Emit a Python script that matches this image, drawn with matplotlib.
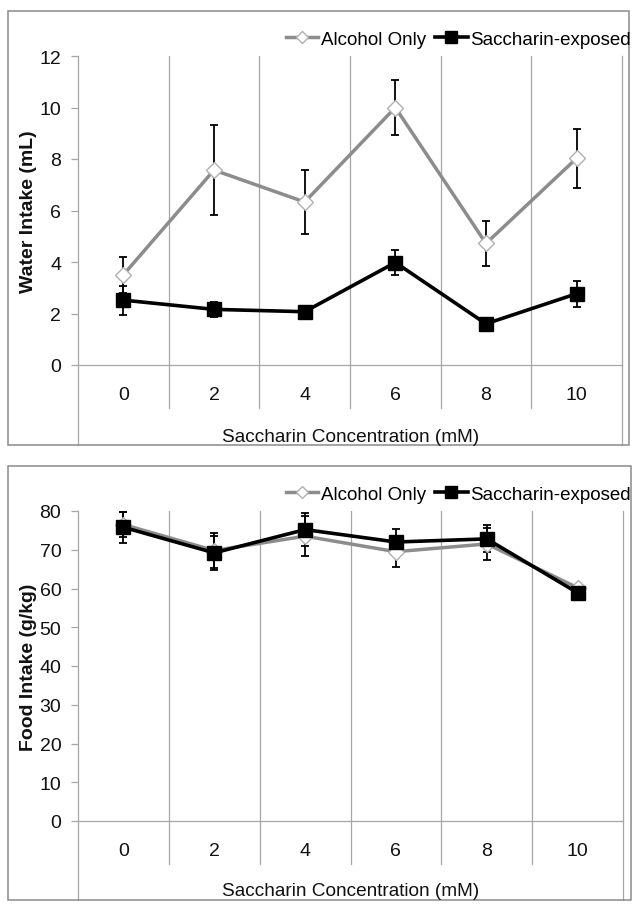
import matplotlib
matplotlib.use("Agg")
import matplotlib.pyplot as plt
from matplotlib.lines import Line2D
from matplotlib.patches import Rectangle

plt.rcParams['font.family'] = ['Liberation Sans', 'DejaVu Sans']

# ---------------------------------------------------------------------------
# Data
# ---------------------------------------------------------------------------
conc_labels = ["0", "2", "4", "6", "8", "10"]

water_alcohol = [3.5, 7.57, 6.33, 10.0, 4.72, 8.03]
water_alcohol_err = [0.71, 1.74, 1.26, 1.07, 0.88, 1.15]
water_sacch = [2.52, 2.16, 2.07, 3.98, 1.60, 2.77]
water_sacch_err = [0.56, 0.28, 0.14, 0.49, 0.18, 0.51]

food_alcohol = [76.5, 69.8, 73.5, 69.5, 71.5, 60.2]
food_alcohol_err = [3.3, 4.4, 5.2, 4.0, 4.2, 0.6]
food_sacch = [75.8, 69.2, 75.2, 72.0, 72.8, 58.9]
food_sacch_err = [4.0, 4.3, 4.3, 3.4, 3.5, 0.6]

GRID = "#a6a6a6"
BORDER = "#8a8a8a"
GREY_LINE = "#8c8c8c"

W, H = 642, 912
fig = plt.figure(figsize=(W / 100, H / 100), dpi=100)


def px_rect(x0, y0, x1, y1):
    """pixel box (top-left origin) -> figure fraction [l, b, w, h]"""
    return [x0 / W, 1 - y1 / H, (x1 - x0) / W, (y1 - y0) / H]


def panel(box, border, ymax, ymin, ystep, grid_bottom, ylabel, xlab_y,
          alc, alc_err, sac, sac_err):
    ax = fig.add_axes(px_rect(*box))
    x = list(range(len(conc_labels)))

    # error bars first, lines + markers on top
    ax.errorbar(x, alc, yerr=alc_err, fmt="none", ecolor="black",
                elinewidth=1.3, capsize=2.8, capthick=1.3, zorder=3)
    ax.errorbar(x, sac, yerr=sac_err, fmt="none", ecolor="black",
                elinewidth=1.3, capsize=2.8, capthick=1.3, zorder=3)
    ax.plot(x, alc, color=GREY_LINE, lw=2.5, marker="D", ms=8,
            mfc="white", mec="#b0b0b0", mew=1.0, zorder=4)
    ax.plot(x, sac, color="black", lw=2.6, marker="s", ms=9.5,
            mfc="black", mec="black", zorder=5)

    # category dividers
    for b in range(1, len(conc_labels)):
        ax.plot([b - 0.5, b - 0.5], [grid_bottom, ymax], color=GRID,
                lw=0.9, zorder=1)

    ax.set_xlim(-0.5, len(conc_labels) - 0.5)
    ax.set_ylim(ymin, ymax)
    ax.set_yticks(range(0, ymax + 1, ystep))
    ax.set_xticks(x)
    ax.set_xticklabels(conc_labels)

    ax.spines["top"].set_visible(False)
    ax.spines["bottom"].set_position(("data", 0))
    for s in ("left", "right", "bottom"):
        ax.spines[s].set_color(GRID)
        ax.spines[s].set_linewidth(0.9)
    ax.tick_params(axis="y", length=5, width=0.9, color=GRID, pad=7,
                   labelsize=14, labelcolor="#111111")
    ax.tick_params(axis="x", length=0, pad=15, labelsize=14,
                   labelcolor="#111111")

    zero_px = box[1] + (box[3] - box[1]) * ymax / (ymax - ymin)
    fig.text(29 / W, 1 - ((box[1] + zero_px) / 2) / H,
             ylabel, rotation=90, ha="center", va="center",
             fontsize=14, fontweight="bold", color="#111111")
    fig.text(351 / W, 1 - xlab_y / H, "Saccharin Concentration (mM)",
             ha="center", va="center", fontsize=13.7, color="#111111")

    fig.patches.append(Rectangle((border[0] / W, 1 - border[3] / H),
                                 (border[2] - border[0]) / W,
                                 (border[3] - border[1]) / H,
                                 transform=fig.transFigure, fill=False,
                                 edgecolor=BORDER, lw=1.1))

    handles = [
        Line2D([], [], color=GREY_LINE, lw=2.5, marker="D", ms=6,
               mfc="white", mec="#b0b0b0"),
        Line2D([], [], color="black", lw=2.6, marker="s", ms=8),
    ]
    fig.legend(handles, ["Alcohol Only", "Saccharin-exposed"], ncol=2,
               loc="center right",
               bbox_to_anchor=(631 / W, 1 - (box[1] - 17) / H),
               frameon=False, fontsize=13.5, handlelength=1.75,
               handletextpad=0.15, columnspacing=0.45, borderpad=0,
               borderaxespad=0)
    return ax


# water intake panel: 12 at y=57, 0 at y=366, axes bottom y=446
panel((78, 57, 622, 446), (8, 12, 629, 446), 12, -80 * 12 / 309, 2,
      -43 * 12 / 309, "Water Intake (mL)", 437,
      water_alcohol, water_alcohol_err, water_sacch, water_sacch_err)

# food intake panel: 80 at y=512, 0 at y=822, axes bottom y=901
panel((78, 512, 623, 901), (8, 467, 631, 901), 80, -79 * 80 / 310, 10,
      -43 * 80 / 310, "Food Intake (g/kg)", 892,
      food_alcohol, food_alcohol_err, food_sacch, food_sacch_err)

fig.savefig("out.png", dpi=100)
